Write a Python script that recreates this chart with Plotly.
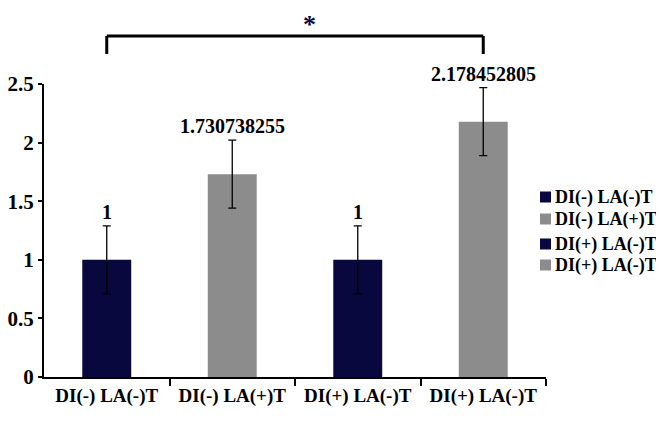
import plotly.graph_objects as go

# data
groups = ["DI(-) LA(-)T", "DI(-) LA(+)T", "DI(+) LA(-)T", "DI(+) LA(-)T"]
values = [1.0, 1.730738255, 1.0, 2.178452805]
errors = [0.29, 0.29, 0.29, 0.29]
value_labels = ["1", "1.730738255", "1", "2.178452805"]
colors = ["#08083f", "#8c8c8c", "#08083f", "#8c8c8c"]
y_ticks = [0, 0.5, 1, 1.5, 2, 2.5]

FONT = "Liberation Serif"
# the page body adds an 8px margin, so the figure is 8px smaller than the window
OFF = 8
W, H = 664 - OFF, 421 - OFF
ML, MR, MT, MB = 36, 118, 76, 44
plot_w = W - ML - MR
plot_h = H - MT - MB


def ref_x(px):
    # reference pixel -> paper x
    return (px - OFF - ML) / plot_w


def ref_y(py):
    # reference pixel -> paper y
    return (H - MB - (py - OFF)) / plot_h


positions = list(range(len(groups)))

fig = go.Figure()

for i, name in enumerate(groups):
    fig.add_trace(go.Bar(
        x=[positions[i]],
        y=[values[i]],
        name=name,
        width=0.39,
        marker=dict(color=colors[i], line=dict(width=0)),
        error_y=dict(type="data", array=[errors[i]], color="black",
                     thickness=1.3, width=4),
        showlegend=False,
    ))

# value labels above the error bars
for i, txt in enumerate(value_labels):
    fig.add_annotation(
        x=positions[i], y=values[i] + errors[i],
        text=txt, showarrow=False, yanchor="bottom", yshift=1,
        font=dict(family=FONT, size=20, color="black", weight="bold"),
    )

# significance bracket between first and last group
br_low, br_high = ref_y(54), ref_y(36)
line_style = dict(color="black", width=3)
fig.add_shape(type="line", xref="x", yref="paper",
              x0=positions[0], x1=positions[0], y0=br_low, y1=br_high, line=line_style)
fig.add_shape(type="line", xref="x", yref="paper",
              x0=positions[-1], x1=positions[-1], y0=br_low, y1=br_high, line=line_style)
fig.add_shape(type="line", xref="x", yref="paper",
              x0=positions[0], x1=positions[-1], y0=br_high, y1=br_high, line=line_style)
fig.add_annotation(
    xref="paper", yref="paper", x=ref_x(309), y=ref_y(25),
    text="*", showarrow=False, yanchor="middle",
    font=dict(family=FONT, size=26, color="#08083f", weight="bold"),
)

# legend drawn as squares + labels (rows grouped in pairs)
legend_rows = [197, 219, 244, 265]
for i, name in enumerate(groups):
    yc = legend_rows[i]
    fig.add_shape(type="rect", xref="paper", yref="paper",
                  x0=ref_x(540), x1=ref_x(551), y0=ref_y(yc + 5.5), y1=ref_y(yc - 5.5),
                  fillcolor=colors[i], line=dict(width=0))
    fig.add_annotation(
        xref="paper", yref="paper", x=ref_x(553), y=ref_y(yc),
        text=name, showarrow=False, xanchor="left", yanchor="middle",
        font=dict(family=FONT, size=18, color="black", weight="bold"),
    )

fig.update_layout(
    width=W, height=H,
    margin=dict(l=ML, r=MR, t=MT, b=MB, autoexpand=False),
    plot_bgcolor="white", paper_bgcolor="white",
    barmode="overlay",
    showlegend=False,
    font=dict(family=FONT, color="black", weight="bold"),
    xaxis=dict(
        range=[-0.5, len(groups) - 0.5],
        tickvals=positions, ticktext=groups,
        ticks="", showline=True, linecolor="black", linewidth=2,
        showgrid=False, zeroline=False, automargin=False,
        tickfont=dict(family=FONT, size=19, color="black", weight="bold"),
        minor=dict(tickvals=[p + 0.5 for p in positions], ticks="outside",
                   ticklen=7, tickwidth=2, tickcolor="black", showgrid=False),
    ),
    yaxis=dict(
        range=[0, 2.5], tickvals=y_ticks,
        ticks="outside", ticklen=4, tickwidth=2, tickcolor="black",
        showline=True, linecolor="black", linewidth=2,
        showgrid=False, zeroline=False, automargin=False,
        tickfont=dict(family=FONT, size=21, color="black", weight="bold"),
    ),
)

fig.write_html("out.html")
